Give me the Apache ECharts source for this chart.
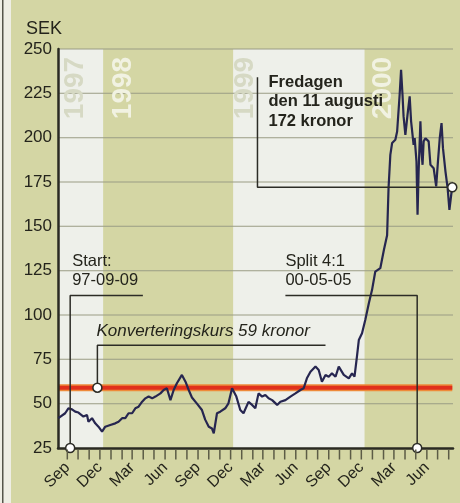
<!DOCTYPE html>
<html>
<head>
<meta charset="utf-8">
<script src="https://cdn.jsdelivr.net/npm/echarts@6/dist/echarts.min.js"></script>
<style>
  html, body { margin: 0; padding: 0; background: #d4d6a4; }
  #main { width: 460px; height: 503px; }
</style>
</head>
<body>
<div id="main"></div>
<script>
// kursdata
const dates = [
  '1997-08-07','1997-08-26','1997-09-04','1997-09-14','1997-09-23','1997-10-02','1997-10-16','1997-10-26',
  '1997-10-30','1997-11-09','1997-11-18','1997-11-27','1997-12-07','1997-12-16','1997-12-30','1998-01-13',
  '1998-01-22','1998-02-01','1998-02-10','1998-02-19','1998-03-01','1998-03-10','1998-03-19','1998-03-29',
  '1998-04-07','1998-04-16','1998-04-26','1998-05-05','1998-05-19','1998-05-28','1998-06-06','1998-06-16',
  '1998-06-25','1998-07-04','1998-07-18','1998-07-28','1998-08-06','1998-08-15','1998-08-29','1998-09-12',
  '1998-09-21','1998-10-01','1998-10-10','1998-10-15','1998-10-24','1998-11-02','1998-11-16','1998-11-25',
  '1998-12-05','1998-12-17','1998-12-28','1999-01-06','1999-01-20','1999-01-30','1999-02-08','1999-02-17',
  '1999-02-27','1999-03-08','1999-03-17','1999-03-27','1999-04-10','1999-04-19','1999-05-03','1999-05-17',
  '1999-05-31','1999-06-14','1999-06-23','1999-07-02','1999-07-12','1999-07-26','1999-08-04','1999-08-13',
  '1999-08-23','1999-09-01','1999-09-10','1999-09-20','1999-09-29','1999-10-13','1999-10-27','1999-11-05',
  '1999-11-12','1999-11-19','1999-11-24','1999-12-03','1999-12-12','1999-12-22','1999-12-31','2000-01-09',
  '2000-01-23','2000-02-02','2000-02-11','2000-02-15','2000-02-20','2000-02-25','2000-03-05','2000-03-10',
  '2000-03-17','2000-03-21','2000-03-25','2000-03-28','2000-04-02','2000-04-08','2000-04-14','2000-04-18',
  '2000-04-25','2000-04-28','2000-05-03','2000-05-06','2000-05-09','2000-05-14','2000-05-17','2000-05-20',
  '2000-05-23','2000-05-28','2000-06-06','2000-06-11','2000-06-20','2000-06-27','2000-07-02','2000-07-07',
  '2000-07-12','2000-07-16','2000-07-23','2000-07-29','2000-08-03','2000-08-08','2000-08-11'
];
const prices = [
  41.8, 44.6, 47.4, 46.8, 45.5, 45.0, 42.7, 43.6,
  39.8, 41.8, 38.9, 37.0, 34.2, 37.0, 38.0, 38.9,
  39.8, 41.8, 41.8, 44.6, 44.6, 47.4, 48.3, 51.1,
  53.0, 54.0, 53.0, 54.0, 55.8, 57.7, 58.7, 52.0,
  57.7, 61.5, 66.2, 62.4, 57.7, 53.5, 50.0, 46.4,
  41.0, 37.0, 36.0, 33.3, 44.6, 45.5, 47.4, 50.2,
  58.7, 54.0, 46.4, 44.6, 51.0, 49.3, 47.4, 55.8,
  54.0, 54.9, 53.0, 52.0, 49.3, 51.1, 52.0, 54.0,
  55.8, 57.7, 58.7, 64.3, 68.0, 70.9, 69.0, 62.4,
  66.2, 65.2, 67.1, 65.2, 70.9, 66.2, 64.3, 67.1,
  65.2, 77.0, 85.9, 89.7, 97.2, 106.6, 114.2, 124.5,
  126.4, 136.7, 145.0, 171.5, 190.3, 197.0, 198.8, 203.5,
  224.2, 238.3, 224.2, 212.0, 201.6, 212.9, 223.3, 209.2,
  195.9, 199.7, 186.6, 156.5, 180.9, 209.2, 192.2, 184.7,
  197.9, 199.7, 197.9, 184.7, 182.8, 172.5, 186.6, 199.7,
  208.2, 194.1, 180.9, 171.5, 159.3, 167.8, 172.0
];

const convRate = 59; // konverteringskurs
const xMin = '1997-08-06';
const xMax = '2000-08-13';
const yTicks = [50, 75, 100, 125, 150, 175, 200, 225, 250];

const yearBands = [['1997-08-06', '1997-12-10'], ['1998-12-08', '1999-12-10']];
const yearNames = ['1997', '1998', '1999', '2000'];
const yearAt = [['1997-09-23', 228], ['1998-02-04', 228], ['1999-01-11', 228], ['2000-02-01', 228]];
const yearOnWhite = [true, false, true, false];

const monthLabels = { 8: 'Sep', 11: 'Dec', 2: 'Mar', 5: 'Jun' };

// anteckningar: linjer (första punkten får en ring) och texter
const startLeader = [['1997-09-09', 25], ['1997-09-09', 111], ['1998-03-31', 111]];
const splitLeader = [['2000-05-05', 25], ['2000-05-05', 111], ['1999-05-03', 111]];
const kursLeader = [['1997-11-24', 59], ['1997-11-24', 83], ['1999-08-23', 83]];
const fredagLeader = [['2000-08-11', 172], ['1999-02-14', 172], ['1999-02-14', 234]];

const notes = [
  { text: 'Start:\n97-09-09', at: ['1997-09-09', 111], dx: 2, dy: -5, weight: 'normal', italic: false, va: 'bottom' },
  { text: 'Split 4:1\n00-05-05', at: ['1999-05-03', 111], dx: 0, dy: -5, weight: 'normal', italic: false, va: 'bottom' },
  { text: 'Konverteringskurs 59 kronor', at: ['1997-11-24', 83], dx: -1, dy: -4, weight: 'normal', italic: true, va: 'bottom' },
  { text: 'Fredagen\nden 11 augusti\n172 kronor', at: ['1999-02-14', 234], dx: 11, dy: -5, weight: 'bold', italic: false, va: 'top' }
];

const FONT = "'Liberation Sans', Arial, Helvetica, sans-serif";
const INK = '#24241c';

// datum -> millisekunder (lokal tid)
function ts(s) {
  const p = s.split('-').map(Number);
  return new Date(p[0], p[1] - 1, p[2]).getTime();
}
const pt = (p) => [ts(p[0]), p[1]];

// tick-positioner: varje månadsskifte
const monthStarts = [];
for (let y = 1997, m = 8; y < 2000 || m <= 7; m++) {
  if (m > 11) { m = 0; y++; }
  monthStarts.push(new Date(y, m, 1).getTime());
}
const labelStarts = monthStarts.filter(t => monthLabels[new Date(t).getMonth()]);

function leaderSeries(pts) {
  return {
    type: 'line',
    z: 6,
    silent: true,
    lineStyle: { color: '#2c2c26', width: 1.5 },
    data: pts.map((p, i) => i === 0 ? {
      value: pt(p), symbol: 'circle', symbolSize: 9,
      itemStyle: { color: '#ffffff', borderColor: '#2c2c26', borderWidth: 1.5 }
    } : { value: pt(p), symbol: 'none' })
  };
}

const myChart = echarts.init(document.getElementById('main'));
myChart.setOption({
  backgroundColor: '#d4d6a4',
  animation: false,
  title: {
    text: 'SEK', left: 21, top: 15,
    textStyle: { fontFamily: FONT, fontSize: 18, fontWeight: 'normal', color: INK }
  },
  grid: { left: 58, right: 7, top: 49, bottom: 55 },
  xAxis: {
    type: 'value',
    z: 4,
    min: ts(xMin),
    max: ts(xMax),
    splitLine: { show: false },
    axisLine: { lineStyle: { color: '#2a2a22', width: 2.5 } },
    axisTick: { show: false },
    axisLabel: {
      customValues: labelStarts,
      rotate: 45, margin: 17,
      fontFamily: FONT, fontSize: 16, color: INK,
      formatter: (v) => monthLabels[new Date(v).getMonth()] || ''
    }
  },
  yAxis: {
    type: 'value',
    z: 4,
    min: 25, max: 250, interval: 25,
    axisLine: { show: true, lineStyle: { color: '#2a2a22', width: 2.5 } },
    axisTick: { show: false },
    splitLine: { show: false },
    axisLabel: { fontFamily: FONT, fontSize: 17, color: INK, margin: 6 }
  },
  series: [
    {
      // vita årsband
      type: 'line', z: -1, data: [], silent: true,
      markArea: {
        silent: true,
        itemStyle: { color: '#eef0ea' },
        data: yearBands.map(b => [{ xAxis: ts(b[0]) }, { xAxis: ts(b[1]) }])
      }
    },
    {
      type: 'line', z: 3, symbol: 'none', silent: true,
      lineStyle: { color: '#ee8a3a', width: 7 },
      data: [[ts(xMin), convRate], [ts(dates[dates.length - 1]), convRate]]
    },
    {
      type: 'line', z: 3, symbol: 'none', silent: true,
      lineStyle: { color: '#e0301c', width: 4 },
      data: [[ts(xMin), convRate], [ts(dates[dates.length - 1]), convRate]]
    },
    {
      name: 'Kurs',
      type: 'line', z: 5, symbol: 'none',
      lineStyle: { color: '#262650', width: 2.2 },
      data: dates.map((d, i) => [ts(d), prices[i]])
    },
    leaderSeries(startLeader),
    leaderSeries(splitLeader),
    leaderSeries(kursLeader),
    leaderSeries(fredagLeader)
  ]
});

const toPx = (p) => myChart.convertToPixel({ gridIndex: 0 }, p);

// stödlinjer, månadsstreck och texter placeras via axlarnas skalor
const graphics = [
  { type: 'rect', z: 20, shape: { x: 0, y: 0, width: 11, height: 503 }, style: { fill: '#eeeee4' } },
  { type: 'rect', z: 21, shape: { x: 2, y: 0, width: 1.5, height: 503 }, style: { fill: '#55554a' } }
];
yTicks.forEach(v => {
  const a = toPx([ts(xMin), v]);
  const b = toPx([ts(xMax), v]);
  graphics.push({
    type: 'rect', z: 2, silent: true,
    shape: { x: a[0], y: a[1] - 0.5, width: b[0] - a[0], height: 1 },
    style: { fill: '#9a9c84' }
  });
});
monthStarts.forEach(t => {
  const p = toPx([t, 25]);
  graphics.push({
    type: 'rect', z: 22, silent: true,
    shape: { x: p[0] - 0.75, y: p[1] + 1.5, width: 1.5, height: 10 },
    style: { fill: '#5c5c46' }
  });
});
yearNames.forEach((name, i) => {
  const p = toPx(pt(yearAt[i]));
  graphics.push({
    type: 'text', x: p[0], y: p[1], rotation: Math.PI / 2, z: 2,
    style: {
      text: name, fontFamily: FONT, fontSize: 28, fontWeight: 'bold',
      fill: yearOnWhite[i] ? '#d6d9c4' : '#f1f2e2',
      align: 'center', verticalAlign: 'middle'
    }
  });
});
notes.forEach(n => {
  const p = toPx(pt(n.at));
  graphics.push({
    type: 'text', x: p[0] + n.dx, y: p[1] + n.dy, z: 10,
    style: {
      text: n.text, fontFamily: FONT, fontSize: n.italic ? 17 : 16.5, lineHeight: 19.5,
      fontWeight: n.weight, fontStyle: n.italic ? 'italic' : 'normal',
      fill: INK, align: 'left', verticalAlign: n.va
    }
  });
});
myChart.setOption({ graphic: graphics });
</script>
</body>
</html>
